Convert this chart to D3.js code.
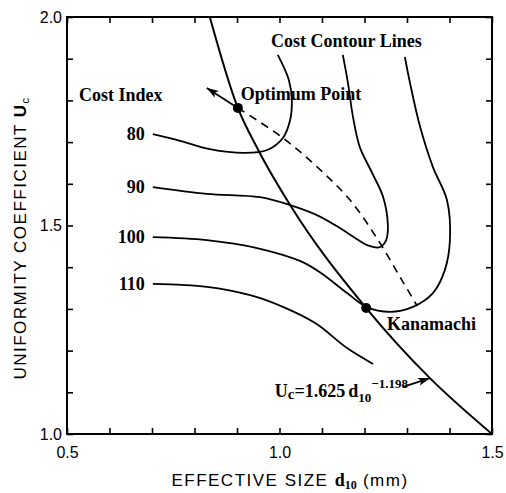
<!DOCTYPE html>
<html>
<head>
<meta charset="utf-8">
<script src="https://cdn.jsdelivr.net/npm/d3@7"></script>
<style>
  body { margin: 0; background: #fff; }
  svg { display: block; }
  .serif { font-family: 'Liberation Serif', 'Times New Roman', serif; font-weight: bold; }
  .sans { font-family: 'Liberation Sans', Arial, sans-serif; }
</style>
</head>
<body>
<svg></svg>
<script>
// effective size d10 (mm) vs uniformity coefficient Uc
var mainCurve = [[0.836, 2.000], [0.902, 1.782], [0.949, 1.683], [1.025, 1.549],
                 [1.204, 1.302], [1.354, 1.134], [1.500, 1.000]];

var contour80 = [[0.702, 1.719], [0.766, 1.703], [0.836, 1.683], [0.919, 1.674], [0.971, 1.681],
                 [1.008, 1.710], [1.025, 1.753], [1.029, 1.801], [1.022, 1.849], [0.996, 1.909]];
var contour90 = [[0.702, 1.592], [0.829, 1.576], [0.954, 1.568], [1.025, 1.549], [1.088, 1.525],
                 [1.142, 1.494], [1.178, 1.470], [1.206, 1.453], [1.236, 1.448], [1.251, 1.465],
                 [1.255, 1.501], [1.244, 1.568], [1.218, 1.626], [1.189, 1.688], [1.173, 1.760],
                 [1.161, 1.842], [1.149, 1.909]];
var contour100 = [[0.702, 1.472], [0.829, 1.465], [0.947, 1.446], [1.048, 1.415], [1.095, 1.388],
                  [1.159, 1.338], [1.204, 1.305], [1.260, 1.293], [1.314, 1.305], [1.361, 1.338],
                  [1.389, 1.393], [1.401, 1.465], [1.394, 1.561], [1.361, 1.640], [1.331, 1.736],
                  [1.307, 1.842], [1.295, 1.904]];
var contour110 = [[0.702, 1.360], [0.829, 1.353], [0.931, 1.333], [1.008, 1.305], [1.084, 1.266],
                  [1.159, 1.206], [1.220, 1.168]];
var costIndex = ['80', '90', '100', '110'];

var optimumPath = [[0.902, 1.782], [1.008, 1.710], [1.091, 1.638], [1.166, 1.561], [1.232, 1.465],
                   [1.284, 1.376], [1.324, 1.307]];
var optimumPoint = [0.902, 1.782];
var kanamachiPoint = [1.204, 1.302];

var xTickLabels = [0.5, 1.0, 1.5];
var yTickLabels = [1.0, 1.5, 2.0];

document.addEventListener('DOMContentLoaded', function() {

  var width = 506;
  var height = 493;
  var margin = { top: 17, right: 14, bottom: 59, left: 67 };
  var w = width - margin.left - margin.right;
  var h = height - margin.top - margin.bottom;

  var svg = d3.select('svg')
                .attr('width', width)
                .attr('height', height);

  svg.append('defs').append('marker')
      .attr('id', 'arrow')
      .attr('viewBox', '0 0 12 8')
      .attr('refX', 12)
      .attr('refY', 4)
      .attr('markerWidth', 13)
      .attr('markerHeight', 8)
      .attr('markerUnits', 'userSpaceOnUse')
      .attr('orient', 'auto')
    .append('path')
      .attr('d', 'M0,0 L12,4 L0,8 L3,4 Z')
      .attr('fill', '#000');

  var g = svg.append('g')
      .attr('transform', `translate(${margin.left}, ${margin.top})`);

  var x = d3.scaleLinear().domain([0.5, 1.5]).range([0, w]);
  var y = d3.scaleLinear().domain([1.0, 2.0]).range([h, 0]);

  var fmt = d3.format('.1f');
  var labelX = v => xTickLabels.some(t => Math.abs(t - v) < 1e-6) ? fmt(v) : '';
  var labelY = v => yTickLabels.some(t => Math.abs(t - v) < 1e-6) ? fmt(v) : '';

  // inward ticks on all four sides
  var axes = [
    { axis: d3.axisBottom(x).tickValues(x.ticks(10)).tickFormat(labelX).tickPadding(13), t: `translate(0, ${h})` },
    { axis: d3.axisLeft(y).tickValues(y.ticks(10)).tickFormat(labelY).tickPadding(5), t: 'translate(0, 0)' },
    { axis: d3.axisTop(x).tickValues(x.ticks(10)).tickFormat(''), t: 'translate(0, 0)' },
    { axis: d3.axisRight(y).tickValues(y.ticks(10)).tickFormat(''), t: `translate(${w}, 0)` }
  ];
  axes.forEach(function(a) {
    var ax = g.append('g')
        .attr('transform', a.t)
        .call(a.axis.tickSizeInner(-6).tickSizeOuter(0));
    ax.select('.domain').remove();
    ax.selectAll('line').attr('stroke', '#000').attr('stroke-width', 1.6);
    ax.selectAll('text')
        .attr('class', 'sans')
        .style('font-size', '16px')
        .attr('fill', '#000');
  });

  g.append('rect')
      .attr('width', w)
      .attr('height', h)
      .attr('fill', 'none')
      .attr('stroke', '#000')
      .attr('stroke-width', 2);

  var line = d3.line()
      .x(d => x(d[0]))
      .y(d => y(d[1]))
      .curve(d3.curveCatmullRom.alpha(0.5));

  var contours = [contour80, contour90, contour100, contour110];

  g.selectAll('.contour')
    .data(contours)
    .enter()
    .append('path')
      .classed('contour', true)
      .attr('d', line)
      .attr('fill', 'none')
      .attr('stroke', '#000')
      .attr('stroke-width', 1.8);

  g.selectAll('.cost-label')
    .data(contours)
    .enter()
    .append('text')
      .classed('cost-label serif', true)
      .attr('x', d => x(d[0][0]) - 8)
      .attr('y', d => y(d[0][1]) + 6)
      .attr('text-anchor', 'end')
      .style('font-size', '18px')
      .text((d, i) => costIndex[i]);

  var smooth = d3.line()
      .x(d => x(d[0]))
      .y(d => y(d[1]))
      .curve(d3.curveMonotoneX);

  g.append('path')
      .attr('d', smooth(mainCurve))
      .attr('fill', 'none')
      .attr('stroke', '#000')
      .attr('stroke-width', 2);

  g.append('path')
      .attr('d', line(optimumPath))
      .attr('fill', 'none')
      .attr('stroke', '#000')
      .attr('stroke-width', 1.6)
      .attr('stroke-dasharray', '8,6');

  // arrow out of the optimum point, continuing the dashed path
  g.append('line')
      .attr('x1', x(optimumPoint[0]))
      .attr('y1', y(optimumPoint[1]))
      .attr('x2', x(0.829))
      .attr('y2', y(1.830))
      .attr('stroke', '#000')
      .attr('stroke-width', 1.8)
      .attr('marker-end', 'url(#arrow)');

  g.selectAll('.pt')
    .data([optimumPoint, kanamachiPoint])
    .enter()
    .append('circle')
      .classed('pt', true)
      .attr('cx', d => x(d[0]))
      .attr('cy', d => y(d[1]))
      .attr('r', 5)
      .attr('fill', '#000');

  function note(dx, dy, txt) {
    return g.append('text')
        .attr('class', 'serif')
        .attr('x', x(dx))
        .attr('y', y(dy))
        .style('font-size', '18px')
        .text(txt);
  }
  note(0.980, 1.928, 'Cost Contour Lines');
  note(0.528, 1.799, 'Cost Index');
  note(0.909, 1.801, 'Optimum Point');
  note(1.253, 1.249, 'Kanamachi');

  // fitted relation
  var eq = note(0.989, 1.089, '');
  eq.append('tspan').text('U');
  eq.append('tspan').attr('dy', 2).style('font-size', '15px').text('c');
  eq.append('tspan').attr('dy', -2).text('=1.625');
  eq.append('tspan').attr('dx', 3).text('d');
  eq.append('tspan').attr('dy', 5).style('font-size', '13px').text('10');
  eq.append('tspan').attr('dy', -14).style('font-size', '13px').text('−1.198');

  g.append('line')
      .attr('x1', x(1.291))
      .attr('y1', y(1.113))
      .attr('x2', x(1.354))
      .attr('y2', y(1.134))
      .attr('stroke', '#000')
      .attr('stroke-width', 1.6)
      .attr('marker-end', 'url(#arrow)');

  // axis titles
  var xt = svg.append('text')
      .attr('class', 'sans')
      .attr('x', 290)
      .attr('y', 486)
      .attr('text-anchor', 'middle')
      .style('font-size', '17px')
      .style('letter-spacing', '1.5px');
  xt.append('tspan').text('EFFECTIVE SIZE ');
  xt.append('tspan').attr('class', 'serif').style('font-size', '18px').style('letter-spacing', '0px').text('d');
  xt.append('tspan').attr('class', 'serif').attr('dy', 3).style('font-size', '12px').style('letter-spacing', '0px').text('10');
  xt.append('tspan').attr('dy', -3).text(' (mm)');

  var yt = svg.append('text')
      .attr('class', 'sans')
      .attr('transform', 'translate(26, 238) rotate(-90)')
      .attr('text-anchor', 'middle')
      .style('font-size', '17px')
      .style('letter-spacing', '1.5px');
  yt.append('tspan').text('UNIFORMITY COEFFICIENT ');
  yt.append('tspan').style('font-weight', 'bold').text('U');
  yt.append('tspan').attr('dy', 3).style('font-size', '11px').text('c');

});
</script>
</body>
</html>
